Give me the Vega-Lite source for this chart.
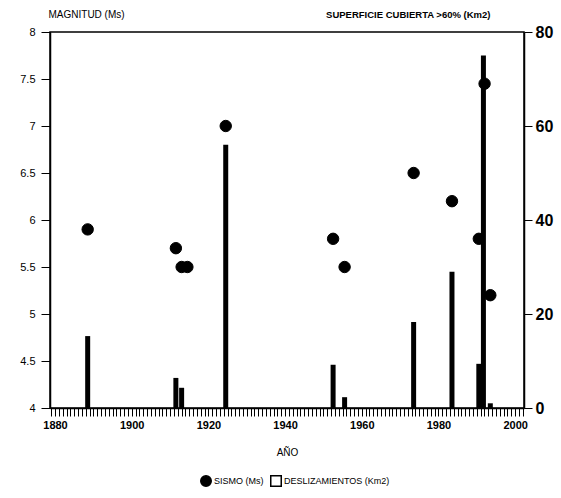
{
  "$schema": "https://vega.github.io/schema/vega-lite/v6.json",
  "width": 474,
  "height": 376,
  "autosize": {"type": "none"},
  "padding": {"left": 50, "top": 32, "right": 37, "bottom": 90},
  "background": "white",
  "config": {
    "font": "Liberation Sans",
    "view": {"stroke": "black", "strokeWidth": 1.5},
    "axis": {"domainColor": "black", "tickColor": "black", "labelColor": "black", "titleColor": "black", "grid": false, "domainWidth": 1.5}
  },
  "datasets": {
    "sismo": [
      {"anio": 1888, "ms": 5.9, "serie": "SISMO (Ms)"},
      {"anio": 1911, "ms": 5.7, "serie": "SISMO (Ms)"},
      {"anio": 1912.5, "ms": 5.5, "serie": "SISMO (Ms)"},
      {"anio": 1914, "ms": 5.5, "serie": "SISMO (Ms)"},
      {"anio": 1924, "ms": 7.0, "serie": "SISMO (Ms)"},
      {"anio": 1952, "ms": 5.8, "serie": "SISMO (Ms)"},
      {"anio": 1955, "ms": 5.5, "serie": "SISMO (Ms)"},
      {"anio": 1973, "ms": 6.5, "serie": "SISMO (Ms)"},
      {"anio": 1983, "ms": 6.2, "serie": "SISMO (Ms)"},
      {"anio": 1990, "ms": 5.8, "serie": "SISMO (Ms)"},
      {"anio": 1991.5, "ms": 7.45, "serie": "SISMO (Ms)"},
      {"anio": 1993, "ms": 5.2, "serie": "SISMO (Ms)"}
    ],
    "desliz": [
      {"anio": 1888, "km2": 15.3},
      {"anio": 1911, "km2": 6.4},
      {"anio": 1912.5, "km2": 4.3},
      {"anio": 1924, "km2": 56},
      {"anio": 1952, "km2": 9.2},
      {"anio": 1955, "km2": 2.3},
      {"anio": 1973, "km2": 18.3},
      {"anio": 1983, "km2": 29},
      {"anio": 1990, "km2": 9.4},
      {"anio": 1991.2, "km2": 75},
      {"anio": 1993, "km2": 1}
    ]
  },
  "layer": [
    {
      "data": {"name": "desliz"},
      "mark": {"type": "bar", "size": 5, "color": "black", "xOffset": 2},
      "encoding": {
        "x": {
          "field": "anio", "type": "quantitative",
          "scale": {"domain": [1880, 2001], "nice": false, "zero": false},
          "axis": {
            "title": "AÑO", "titleFontSize": 10, "titleFontWeight": "normal", "titlePadding": 17,
            "tickCount": 121, "format": "d", "labelOverlap": false,
            "labelExpr": "datum.value % 20 === 0 ? datum.label : ''",
            "tickSize": 8, "tickWidth": 1, "labelFontSize": 11, "labelFontWeight": "bold", "labelPadding": 3
          }
        },
        "y": {
          "field": "km2", "type": "quantitative",
          "scale": {"domain": [0, 80], "nice": false},
          "axis": {
            "orient": "right", "values": [0, 20, 40, 60, 80], "tickSize": 8,
            "labelFontSize": 16, "labelFontWeight": "bold", "labelPadding": 3,
            "title": "SUPERFICIE CUBIERTA >60% (Km2)", "titleAngle": 0, "titleAlign": "right",
            "titleBaseline": "alphabetic", "titleX": -34, "titleY": -15,
            "titleFontSize": 9.5, "titleFontWeight": "bold"
          }
        }
      }
    },
    {
      "data": {"name": "sismo"},
      "mark": {"type": "point", "filled": true, "size": 130, "stroke": "black", "strokeWidth": 1, "xOffset": 2, "opacity": 1},
      "encoding": {
        "x": {"field": "anio", "type": "quantitative"},
        "y": {
          "field": "ms", "type": "quantitative",
          "scale": {"domain": [4, 8], "nice": false, "zero": false},
          "axis": {
            "orient": "left", "values": [4, 4.5, 5, 5.5, 6, 6.5, 7, 7.5, 8], "format": ".1~f",
            "tickSize": 9, "labelFontSize": 11, "labelPadding": 6,
            "title": "MAGNITUD (Ms)", "titleAngle": 0, "titleAlign": "left",
            "titleBaseline": "alphabetic", "titleX": -2, "titleY": -15,
            "titleFontSize": 10, "titleFontWeight": "normal"
          }
        },
        "shape": {
          "field": "serie", "type": "nominal",
          "scale": {"domain": ["SISMO (Ms)", "DESLIZAMIENTOS (Km2)"], "range": ["circle", "square"]},
          "legend": {"orient": "none", "legendX": 150, "legendY": 443, "direction": "horizontal", "gridAlign": "none", "title": null, "labelFontSize": 9, "symbolSize": 110, "columnPadding": 3, "labelOffset": 2,
            "encode": {"symbols": {"update": {"stroke": {"value": "black"}, "strokeWidth": {"value": 1.2}}}}}
        },
        "fill": {
          "field": "serie", "type": "nominal",
          "scale": {"domain": ["SISMO (Ms)", "DESLIZAMIENTOS (Km2)"], "range": ["black", "white"]},
          "legend": {"orient": "none", "legendX": 150, "legendY": 443, "direction": "horizontal", "gridAlign": "none", "title": null, "labelFontSize": 9, "symbolSize": 110, "columnPadding": 3, "labelOffset": 2,
            "encode": {"symbols": {"update": {"stroke": {"value": "black"}, "strokeWidth": {"value": 1.2}}}}}
        }
      }
    }
  ],
  "resolve": {"scale": {"y": "independent"}}
}
